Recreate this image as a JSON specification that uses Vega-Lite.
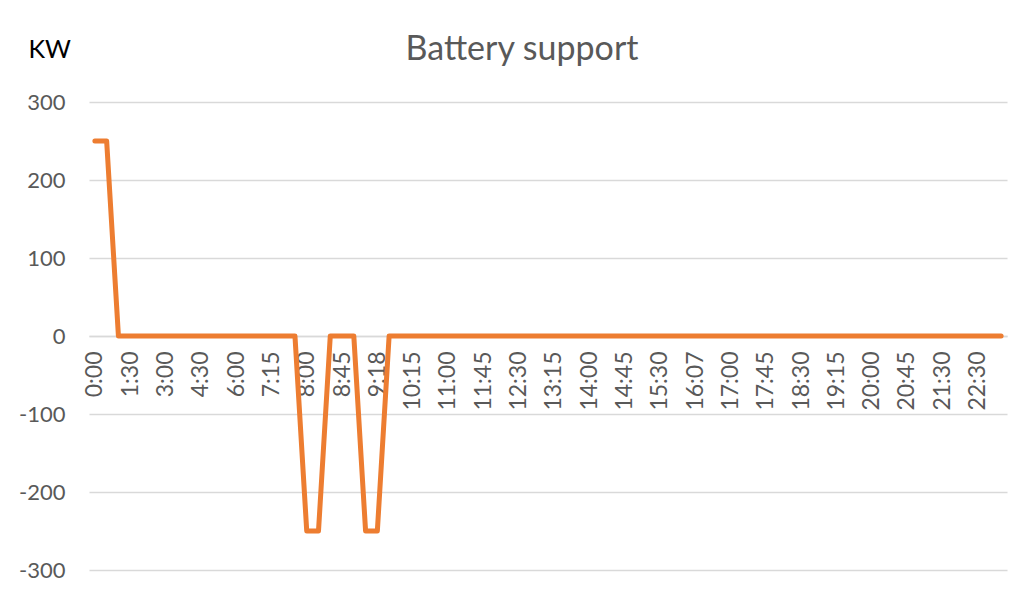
{
  "$schema": "https://vega.github.io/schema/vega-lite/v6.json",
  "width": 918,
  "height": 468,
  "autosize": "none",
  "padding": {"left": 89, "top": 102, "right": 29, "bottom": 27},
  "background": "white",
  "config": {
    "view": {"stroke": null},
    "font": "Lato"
  },
  "title": {
    "text": "Battery support",
    "font": "Lato",
    "fontSize": 34,
    "fontWeight": "normal",
    "color": "#595959",
    "anchor": "middle",
    "frame": "group",
    "dx": -26,
    "offset": 10,
    "dy": 40
  },
  "data": {
    "values": [
      {"time": "0:00", "kw": 250}, {"time": "0:30", "kw": 250}, {"time": "1:00", "kw": 0}, {"time": "1:30", "kw": 0},
      {"time": "2:00", "kw": 0}, {"time": "2:30", "kw": 0}, {"time": "3:00", "kw": 0}, {"time": "3:30", "kw": 0},
      {"time": "4:00", "kw": 0}, {"time": "4:30", "kw": 0}, {"time": "5:00", "kw": 0}, {"time": "5:30", "kw": 0},
      {"time": "6:00", "kw": 0}, {"time": "6:30", "kw": 0}, {"time": "7:00", "kw": 0}, {"time": "7:15", "kw": 0},
      {"time": "7:30", "kw": 0}, {"time": "7:45", "kw": 0}, {"time": "8:00", "kw": -250}, {"time": "8:15", "kw": -250},
      {"time": "8:30", "kw": 0}, {"time": "8:45", "kw": 0}, {"time": "9:00", "kw": 0}, {"time": "9:15", "kw": -250},
      {"time": "9:18", "kw": -250}, {"time": "9:45", "kw": 0}, {"time": "10:00", "kw": 0}, {"time": "10:15", "kw": 0},
      {"time": "10:30", "kw": 0}, {"time": "10:45", "kw": 0}, {"time": "11:00", "kw": 0}, {"time": "11:15", "kw": 0},
      {"time": "11:30", "kw": 0}, {"time": "11:45", "kw": 0}, {"time": "12:00", "kw": 0}, {"time": "12:15", "kw": 0},
      {"time": "12:30", "kw": 0}, {"time": "12:45", "kw": 0}, {"time": "13:00", "kw": 0}, {"time": "13:15", "kw": 0},
      {"time": "13:30", "kw": 0}, {"time": "13:45", "kw": 0}, {"time": "14:00", "kw": 0}, {"time": "14:15", "kw": 0},
      {"time": "14:30", "kw": 0}, {"time": "14:45", "kw": 0}, {"time": "15:00", "kw": 0}, {"time": "15:15", "kw": 0},
      {"time": "15:30", "kw": 0}, {"time": "15:45", "kw": 0}, {"time": "16:00", "kw": 0}, {"time": "16:07", "kw": 0},
      {"time": "16:30", "kw": 0}, {"time": "16:45", "kw": 0}, {"time": "17:00", "kw": 0}, {"time": "17:15", "kw": 0},
      {"time": "17:30", "kw": 0}, {"time": "17:45", "kw": 0}, {"time": "18:00", "kw": 0}, {"time": "18:15", "kw": 0},
      {"time": "18:30", "kw": 0}, {"time": "18:45", "kw": 0}, {"time": "19:00", "kw": 0}, {"time": "19:15", "kw": 0},
      {"time": "19:30", "kw": 0}, {"time": "19:45", "kw": 0}, {"time": "20:00", "kw": 0}, {"time": "20:15", "kw": 0},
      {"time": "20:30", "kw": 0}, {"time": "20:45", "kw": 0}, {"time": "21:00", "kw": 0}, {"time": "21:15", "kw": 0},
      {"time": "21:30", "kw": 0}, {"time": "21:45", "kw": 0}, {"time": "22:00", "kw": 0}, {"time": "22:30", "kw": 0},
      {"time": "23:00", "kw": 0}, {"time": "23:30", "kw": 0}
    ]
  },
  "mark": {
    "type": "line",
    "color": "#ED7D31",
    "strokeWidth": 5,
    "strokeCap": "round",
    "strokeJoin": "round"
  },
  "encoding": {
    "x": {
      "field": "time",
      "type": "ordinal",
      "sort": null,
      "scale": {"type": "point", "padding": 0.5},
      "axis": {
        "title": null,
        "orient": "bottom",
        "offset": -234,
        "values": ["0:00", "1:30", "3:00", "4:30", "6:00", "7:15", "8:00", "8:45", "9:18", "10:15", "11:00", "11:45", "12:30", "13:15", "14:00", "14:45", "15:30", "16:07", "17:00", "17:45", "18:30", "19:15", "20:00", "20:45", "21:30", "22:30"],
        "labelAngle": -90,
        "labelAlign": "right",
        "labelBaseline": "middle",
        "labelPadding": 15,
        "labelFont": "Lato",
        "labelFontSize": 23,
        "labelColor": "#595959",
        "ticks": false,
        "domain": true,
        "domainColor": "#d9d9d9",
        "domainWidth": 1.3,
        "grid": false,
        "labelOverlap": false,
        "zindex": 0
      }
    },
    "y": {
      "field": "kw",
      "type": "quantitative",
      "scale": {"domain": [-300, 300], "nice": false, "zero": false},
      "axis": {
        "values": [-300, -200, -100, 0, 100, 200, 300],
        "labelExpr": "datum.value + ''",
        "title": "KW",
        "titleAngle": 0,
        "titleAlign": "left",
        "titleBaseline": "alphabetic",
        "titleX": -61,
        "titleY": -45,
        "titleFont": "Lato",
        "titleFontSize": 25,
        "titleFontWeight": "normal",
        "titleColor": "#000000",
        "labelFont": "Lato",
        "labelFontSize": 22,
        "labelColor": "#595959",
        "labelPadding": 24,
        "ticks": false,
        "domain": false,
        "grid": true,
        "gridColor": "#d9d9d9",
        "gridWidth": 1.3
      }
    }
  }
}
